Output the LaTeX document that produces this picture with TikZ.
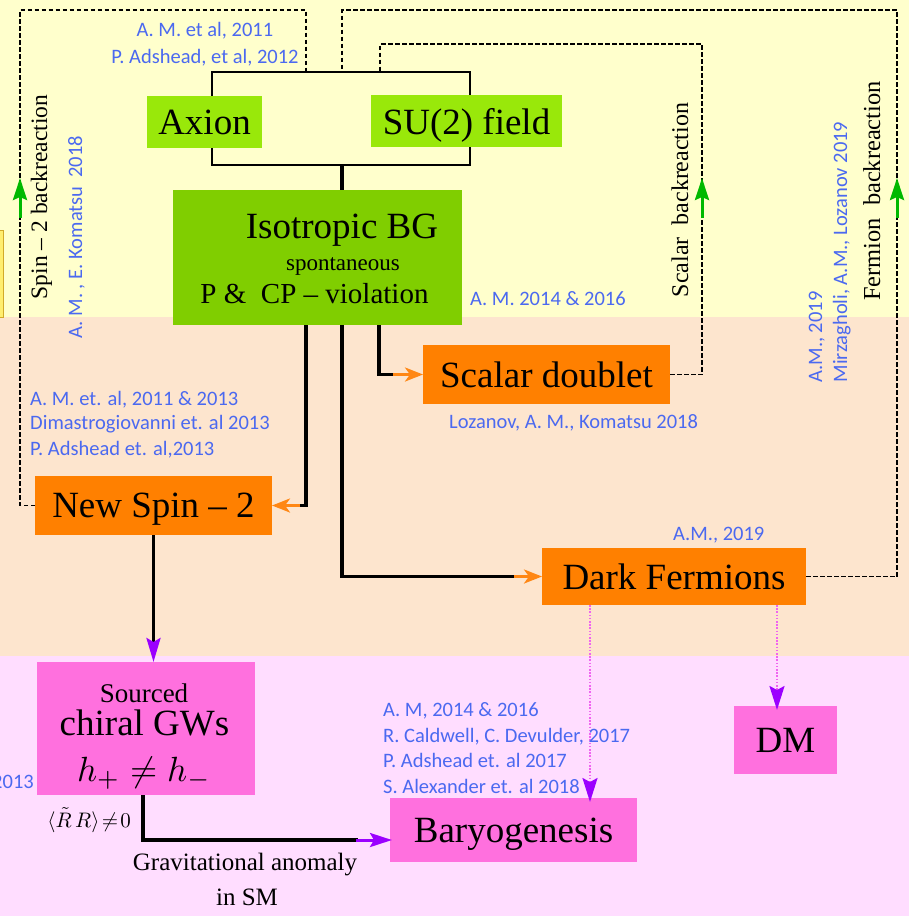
\documentclass[tikz,border=0pt]{standalone}
\usepackage{fontspec}
\setmainfont{Liberation Serif}
\newfontfamily\citefont{Carlito}
\usetikzlibrary{arrows.meta,calc}

\definecolor{bandYellow}{RGB}{255,255,204}
\definecolor{bandPeach}{RGB}{253,229,206}
\definecolor{bandPink}{RGB}{255,221,255}
\definecolor{limeFill}{RGB}{153,232,10}
\definecolor{leafFill}{RGB}{128,206,0}
\definecolor{orangeFill}{RGB}{255,128,0}
\definecolor{pinkFill}{RGB}{255,112,222}
\definecolor{citeBlue}{RGB}{75,105,240}
\definecolor{tipPurple}{RGB}{155,0,255}
\definecolor{dotPink}{RGB}{240,100,240}
\definecolor{tipGreen}{RGB}{0,185,0}
\definecolor{tipOrange}{RGB}{255,135,20}
\definecolor{edgeYellow}{RGB}{255,238,110}
\definecolor{edgeGold}{RGB}{210,170,40}

\begin{document}
\begin{tikzpicture}[x=1pt,y=-1pt,
  box/.style={inner sep=0pt,outer sep=0pt,text depth=0pt,font=\fontsize{37}{40}\selectfont},
  limebox/.style={box,fill=limeFill},
  leafbox/.style={box,fill=leafFill},
  orangebox/.style={box,fill=orangeFill},
  pinkbox/.style={box,fill=pinkFill},
  cite/.style={inner sep=0pt,text=citeBlue,font=\citefont\fontsize{20.5}{24}\selectfont},
  plain/.style={inner sep=0pt},
  solidline/.style={line width=3.2pt,black},
  bracketline/.style={line width=2.6pt,black},
  dashline/.style={line width=1.9pt,black,dash pattern=on 4.5pt off 2.5pt},
  orangetip/.style={line width=3pt,tipOrange,-{Stealth[length=18pt,width=14pt,inset=5pt]}},
  purpletip/.style={line width=3.2pt,black,-{Stealth[length=24pt,width=14pt,inset=4pt,color=tipPurple]}},
  purpleseg/.style={line width=3pt,tipPurple,-{Stealth[length=22pt,width=14pt,inset=4pt]}},
  dotline/.style={line width=2.2pt,dotPink,dash pattern=on 1.6pt off 1.6pt,-{Stealth[length=24pt,width=15pt,inset=4pt,color=tipPurple]}},
  greentip/.style={line width=3pt,tipGreen,-{Stealth[length=22pt,width=14pt,inset=3pt]}}
]
\useasboundingbox (0,0) rectangle (909,916);

% background bands
\fill[bandYellow] (0,0) rectangle (909,317);
\fill[bandPeach] (0,317) rectangle (909,656);
\fill[bandPink] (0,656) rectangle (909,916);

% edge of a box running off the left side
\filldraw[fill=edgeYellow,draw=edgeGold,line width=1pt] (-20,230) rectangle (3,317);

% frame joining the two fields
\coordinate (brNW) at (212,72);
\coordinate (brSE) at (470,165);
\draw[bracketline] (brNW) rectangle (brSE);

% boxes
\node[limebox,minimum width=115,minimum height=52] (axion) at (204.5,122) {Axion};
\node[limebox,minimum width=191,minimum height=52] (su2) at (466.5,121) {SU(2) field};
\node[leafbox,minimum width=289,minimum height=135] (iso) at (317.5,257.5) {};
\node[orangebox,minimum width=247,minimum height=59] (scalar) at (546.5,374.5) {Scalar doublet};
\node[orangebox,minimum width=237,minimum height=59] (spin2) at (153.5,505.5) {New Spin -- 2};
\node[orangebox,minimum width=264,minimum height=57] (darkf) at (674,576.5) {Dark Fermions};
\node[pinkbox,minimum width=218,minimum height=133] (gw) at (146,728.5) {};
\node[pinkbox,minimum width=103,minimum height=68] (dm) at (785.5,740) {DM};
\node[pinkbox,minimum width=247,minimum height=64] (bary) at (513.5,830) {Baryogenesis};

% texts inside the large boxes
\node[plain,anchor=base,font=\fontsize{37}{40}\selectfont] (isoT1) at (342,238) {Isotropic BG};
\node[plain,anchor=base,font=\fontsize{23}{26}\selectfont] (isoT2) at (343,270) {spontaneous};
\node[plain,anchor=base,font=\fontsize{29}{32}\selectfont] (isoT3) at (314.5,303) {P \&\ \ CP -- violation};
\node[plain,anchor=base,font=\fontsize{27}{30}\selectfont] (gwT1) at (144,702) {Sourced};
\node[plain,anchor=base,font=\fontsize{37}{40}\selectfont] (gwT2) at (144.5,735) {chiral GWs};
\node[plain,anchor=base,scale=3.5] (gwT3) at (144,781) {$h_+\neq h_-$};

% backreaction loops
\coordinate (bkL) at (306,72);
\coordinate (bkR) at (342,72);
\coordinate (bkS) at (380,72);
\draw[dashline] (spin2.west) -| (20,10) -| (bkL);
\draw[dashline] (darkf.east) -| (897,10) -| (bkR);
\draw[dashline] (scalar.east) -| (702,44) -| (bkS);
\draw[greentip] (20,218) -- (20,178);
\draw[greentip] (702,218) -- (702,178);
\draw[greentip] (897,218) -- (897,178);

% frame to background
\coordinate (brBot) at (342,165);
\draw[solidline] (brBot) -- (brBot |- iso.north);

% background to the three new fields
\coordinate (isoOutA) at (306,325);
\coordinate (isoOutB) at (342,325);
\coordinate (isoOutC) at (379,325);
\draw[solidline] (isoOutA) |- ($(spin2.east)+(28,0)$);
\draw[orangetip] ($(spin2.east)+(28,0)$) -- (spin2.east);
\draw[solidline] (isoOutB) |- ($(darkf.west)+(-28,0)$);
\draw[orangetip] ($(darkf.west)+(-28,0)$) -- (darkf.west);
\draw[solidline] (isoOutC) |- ($(scalar.west)+(-30,0)$);
\draw[orangetip] ($(scalar.west)+(-30,0)$) -- (scalar.west);

% spin-2 to gravitational waves to baryogenesis
\draw[purpletip] (spin2.south) -- (spin2.south |- gw.north);
\coordinate (gwOut) at (143,795);
\draw[solidline] (gwOut) |- ($(bary.west)+(-32,10)$);
\draw[purpleseg] ($(bary.west)+(-34,10)$) -- ($(bary.west)+(2,10)$);

% dark fermions to baryogenesis and dark matter
\coordinate (dfOutA) at (590,605);
\coordinate (dfOutB) at (777,605);
\draw[dotline] (dfOutA) -- ($(dfOutA |- bary.north)+(0,4)$);
\draw[dotline] (dfOutB) -- ($(dfOutB |- dm.north)+(0,4)$);

% labels below the waves box
\node[plain,anchor=base west,scale=2.1] (anom) at (47,827) {$\langle\tilde{R}\,R\rangle\!\neq\!0$};
\node[plain,anchor=base,font=\fontsize{25}{28}\selectfont] (gravA) at (245,870) {Gravitational anomaly};
\node[plain,anchor=base,font=\fontsize{25}{28}\selectfont] (gravB) at (247,905) {in SM};

% rotated labels along the loops
\node[plain,rotate=90,anchor=base,font=\fontsize{23.5}{26}\selectfont] (bkSpin) at (47,197) {Spin -- 2 backreaction};
\node[cite,rotate=90,anchor=base] (citeKom) at (82,237) {A. M. , E. Komatsu\ \ 2018};
\node[plain,rotate=90,anchor=base,font=\fontsize{24}{26}\selectfont] (bkScalar) at (688,200) {Scalar\ \ backreaction};
\node[cite,rotate=90,anchor=base] (citeAM19v) at (822,337) {A.M., 2019};
\node[cite,rotate=90,anchor=base] (citeMir) at (847,252) {Mirzagholi, A.M., Lozanov 2019};
\node[plain,rotate=90,anchor=base,font=\fontsize{24.4}{26}\selectfont] (bkFermion) at (880,191) {Fermion\ \ backreaction};

% references
\node[cite,anchor=base] (citeA) at (205,36) {A. M. et al, 2011};
\node[cite,anchor=base] (citeB) at (205,63) {P. Adshead, et al, 2012};
\node[cite,anchor=base west] (citeC) at (470,305) {A. M. 2014 \& 2016};
\node[cite,anchor=base west] (citeD) at (449,428) {Lozanov, A. M., Komatsu 2018};
\node[cite,anchor=base west] (citeE) at (30,405) {A. M. et. al, 2011 \& 2013};
\node[cite,anchor=base west] (citeF) at (30,429) {Dimastrogiovanni et. al 2013};
\node[cite,anchor=base west] (citeG) at (30,455) {P. Adshead et. al,2013};
\node[cite,anchor=base west] (citeH) at (673,540) {A.M., 2019};
\node[cite,anchor=base west] (citeI) at (383,716) {A. M, 2014 \& 2016};
\node[cite,anchor=base west] (citeJ) at (383,742) {R. Caldwell, C. Devulder, 2017};
\node[cite,anchor=base west] (citeK) at (383,767) {P. Adshead et. al 2017};
\node[cite,anchor=base west] (citeL) at (383,793) {S. Alexander et. al 2018};
\node[cite,anchor=base east] (citeM) at (34,788) {2013};
\end{tikzpicture}
\end{document}
